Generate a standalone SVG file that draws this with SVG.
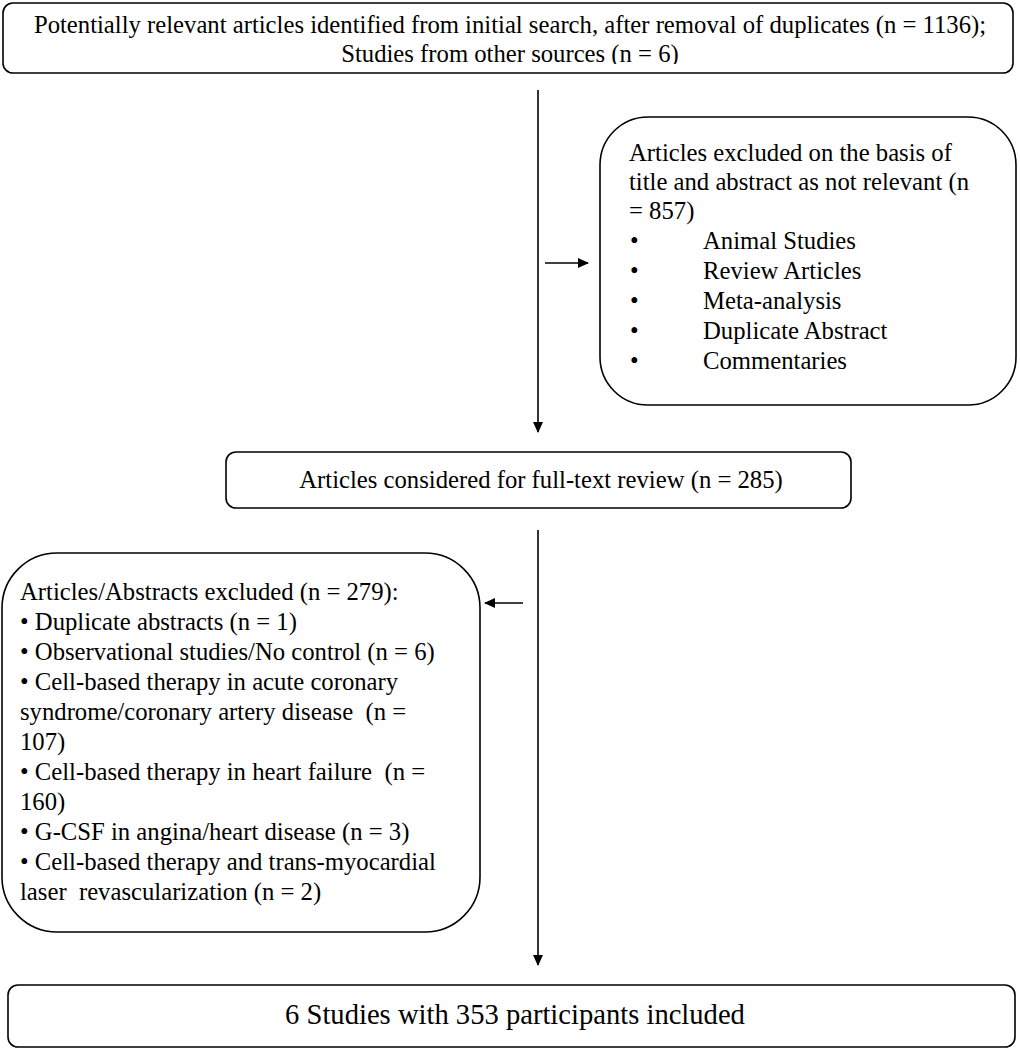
<svg xmlns="http://www.w3.org/2000/svg" width="1020" height="1050" viewBox="0 0 1020 1050">
<style>
.box{fill:#fff;stroke:#000;stroke-width:1.6}
.t{font-family:"Liberation Serif","Times New Roman",serif;font-size:24.7px;fill:#000}
.c{text-anchor:middle}
.ln{stroke:#000;stroke-width:1.6;fill:none}
</style>
<defs>
<marker id="ah" markerWidth="11" markerHeight="10" refX="10" refY="5" orient="auto" markerUnits="userSpaceOnUse">
<path d="M0,0 L11,5 L0,10 z" fill="#000"/>
</marker>
<clipPath id="clipTop"><rect x="0" y="0" width="1020" height="64"/></clipPath>
</defs>
<rect width="1020" height="1050" fill="#fff"/>
<g id="connectors">
<line class="ln" x1="538" y1="90" x2="538" y2="432" marker-end="url(#ah)"/>
<line class="ln" x1="545" y1="263" x2="588" y2="263" marker-end="url(#ah)"/>
<line class="ln" x1="538" y1="530" x2="538" y2="965" marker-end="url(#ah)"/>
<line class="ln" x1="523" y1="603" x2="485" y2="603" marker-end="url(#ah)"/>
</g>
<g id="n1">
<rect class="box" x="3" y="3" width="1010" height="70" rx="10"/>
<g clip-path="url(#clipTop)">
<text class="t c" x="510" y="33">Potentially relevant articles identified from initial search, after removal of duplicates (n = 1136);</text>
<text class="t c" x="510" y="62">Studies from other sources (n = 6)</text>
</g>
</g>
<g id="n2">
<rect class="box" x="600" y="117" width="416" height="288" rx="48"/>
<text class="t" x="629" y="161">Articles excluded on the basis of</text>
<text class="t" x="629" y="190">title and abstract as not relevant (n</text>
<text class="t" x="629" y="219">= 857)</text>
<text class="t" x="630" y="249">•</text><text class="t" x="703" y="249">Animal Studies</text>
<text class="t" x="630" y="279">•</text><text class="t" x="703" y="279">Review Articles</text>
<text class="t" x="630" y="309">•</text><text class="t" x="703" y="309">Meta-analysis</text>
<text class="t" x="630" y="339">•</text><text class="t" x="703" y="339">Duplicate Abstract</text>
<text class="t" x="630" y="369">•</text><text class="t" x="703" y="369">Commentaries</text>
</g>
<g id="n3">
<rect class="box" x="226" y="452" width="625" height="56" rx="10"/>
<text class="t c" x="541" y="488">Articles considered for full-text review (n = 285)</text>
</g>
<g id="n4">
<rect class="box" x="2" y="553" width="478" height="379" rx="55"/>
<text class="t" x="20" y="600">Articles/Abstracts excluded (n = 279):</text>
<text class="t" x="20" y="630">• Duplicate abstracts (n = 1)</text>
<text class="t" x="20" y="660">• Observational studies/No control (n = 6)</text>
<text class="t" x="20" y="690">• Cell-based therapy in acute coronary</text>
<text class="t" x="20" y="720" xml:space="preserve">syndrome/coronary artery disease  (n =</text>
<text class="t" x="20" y="750">107)</text>
<text class="t" x="20" y="780" xml:space="preserve">• Cell-based therapy in heart failure  (n =</text>
<text class="t" x="20" y="810">160)</text>
<text class="t" x="20" y="840">• G-CSF in angina/heart disease (n = 3)</text>
<text class="t" x="20" y="870">• Cell-based therapy and trans-myocardial</text>
<text class="t" x="20" y="900" xml:space="preserve">laser  revascularization (n = 2)</text>
</g>
<g id="n5">
<rect class="box" x="8" y="985" width="1007" height="62" rx="10"/>
<text class="t c" x="515" y="1024" style="font-size:28.6px">6 Studies with 353 participants included</text>
</g>
</svg>
